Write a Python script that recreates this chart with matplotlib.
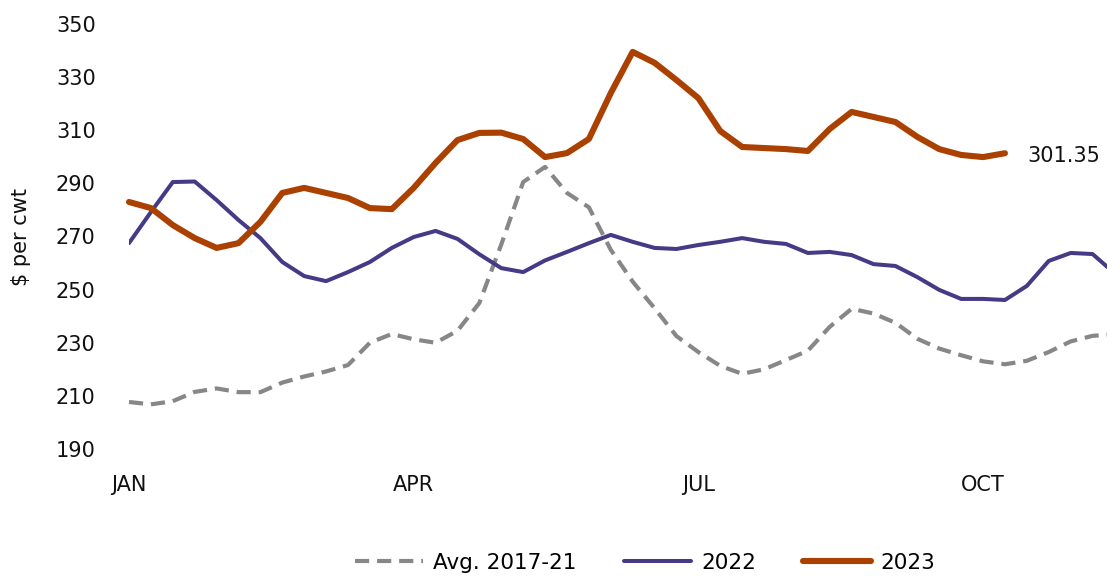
import matplotlib
matplotlib.use("Agg")
import matplotlib.pyplot as plt

# weekly prices, $ per cwt (week 0 = first week of January)
avg_2017_21 = [207.7, 206.8, 208.0, 211.5, 212.8, 211.4, 211.4, 215.0, 217.3, 219.2,
               221.6, 230.0, 233.3, 231.3, 230.0, 234.5, 245.0, 267.0, 290.5, 296.2,
               286.4, 281.0, 265.0, 253.0, 243.0, 232.5, 226.5, 221.3, 218.3, 220.0,
               223.5, 227.0, 236.0, 242.8, 241.0, 237.5, 231.5, 227.8, 225.3, 223.0,
               221.9, 223.2, 226.5, 230.5, 232.6, 233.2]
prices_2022 = [267.5, 279.2, 290.5, 290.7, 283.7, 276.2, 269.4, 260.4, 255.1, 253.2,
               256.6, 260.4, 265.7, 269.8, 272.1, 269.1, 263.3, 258.1, 256.6, 261.0,
               264.2, 267.5, 270.6, 268.0, 265.7, 265.3, 266.8, 268.0, 269.4, 268.0,
               267.2, 263.8, 264.2, 263.0, 259.6, 258.9, 254.7, 249.9, 246.5, 246.5,
               246.1, 251.4, 260.8, 263.8, 263.4, 256.2]
prices_2023 = [283.0, 280.7, 274.3, 269.4, 265.7, 267.5, 275.5, 286.4, 288.3, 286.4,
               284.5, 280.7, 280.3, 288.3, 297.7, 306.3, 309.0, 309.1, 306.7, 299.9,
               301.4, 306.7, 324.0, 339.5, 335.4, 328.9, 322.1, 309.7, 303.7, 303.3,
               302.9, 302.2, 310.5, 316.9, 315.0, 313.1, 307.5, 302.9, 300.7, 299.9,
               301.35]

month_ticks = [0, 13, 26, 39]
month_labels = ["JAN", "APR", "JUL", "OCT"]
y_ticks = [190, 210, 230, 250, 270, 290, 310, 330, 350]
last_label = "301.35"

C_AVG = "#878787"
C_2022 = "#453a86"
C_2023 = "#ab4100"

plt.rcParams["font.family"] = ["DejaVu Sans"]

fig = plt.figure(figsize=(11.07, 5.76), dpi=100)
ax = fig.add_axes([129 / 1107, 1 - 449 / 576, 1 - 129 / 1107, 425 / 576])

ax.plot(range(len(avg_2017_21)), avg_2017_21, color=C_AVG, lw=3.0,
        linestyle=(0, (3.4, 1.9)), label="Avg. 2017-21", clip_on=False)
ax.plot(range(len(prices_2022)), prices_2022, color=C_2022, lw=2.9,
        solid_capstyle="round", label="2022")
ax.plot(range(len(prices_2023)), prices_2023, color=C_2023, lw=4.4,
        solid_capstyle="round", label="2023", clip_on=False)

ax.annotate(last_label, xy=(len(prices_2023) - 1, prices_2023[-1]),
            xytext=(16.5, -2), textcoords="offset points",
            va="center", ha="left", fontsize=15, color="#111111")

ax.set_xlim(0, 44.66)
ax.set_ylim(190, 350)
ax.set_xticks(month_ticks)
ax.set_xticklabels(month_labels)
ax.set_yticks(y_ticks)

for s in ax.spines.values():
    s.set_visible(False)
ax.tick_params(axis="both", length=0, labelsize=15, colors="#111111")
ax.tick_params(axis="y", pad=24)
ax.tick_params(axis="x", pad=19)
ax.set_ylabel("$ per cwt", fontsize=15, color="#111111", labelpad=18)

fig.legend(loc="center", bbox_to_anchor=(0.583, 0.023), ncol=3, frameon=False,
           fontsize=15.5, handlelength=3.15, handletextpad=0.45, columnspacing=2.2)

fig.savefig("out.png", dpi=100)
